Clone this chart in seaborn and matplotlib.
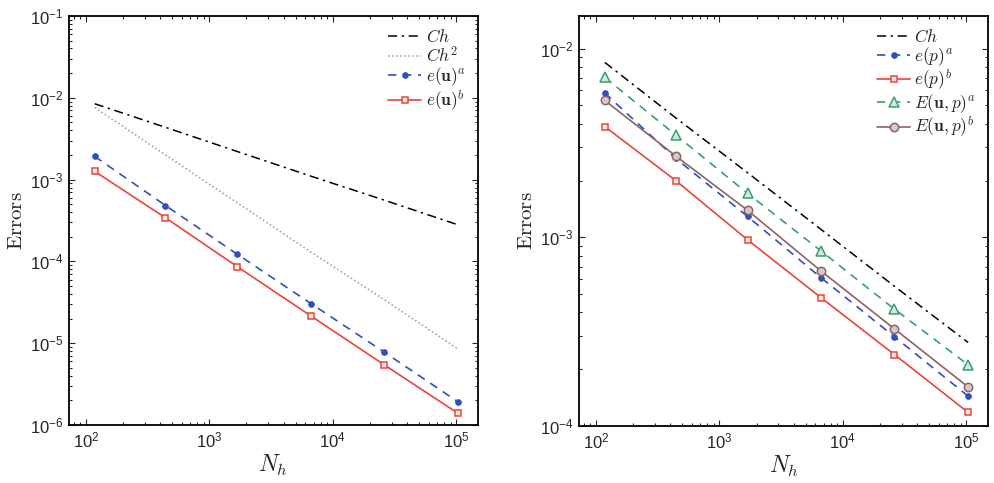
import numpy as np
import pandas as pd
import matplotlib
matplotlib.use("Agg")
import matplotlib.pyplot as plt
import seaborn as sns

# mesh sizes (number of dofs)
N_h = [118, 442, 1690, 6670, 26200, 103500]

# left panel: velocity errors + reference slopes
ref_Ch = [8.45e-3, 4.35e-3, 2.2e-3, 1.1e-3, 5.6e-4, 2.8e-4]
ref_Ch2 = [7.6e-3, 2.0e-3, 5.2e-4, 1.3e-4, 3.4e-5, 8.5e-6]
eu_a = [1.92e-3, 4.82e-4, 1.22e-4, 3.05e-5, 7.76e-6, 1.92e-6]
eu_b = [1.26e-3, 3.41e-4, 8.61e-5, 2.15e-5, 5.43e-6, 1.39e-6]

# right panel: pressure / energy errors
ref_Ch_r = [8.45e-3, 4.3e-3, 2.2e-3, 1.1e-3, 5.5e-4, 2.77e-4]
ep_a = [5.81e-3, 2.62e-3, 1.29e-3, 6.1e-4, 2.97e-4, 1.44e-4]
ep_b = [3.86e-3, 2.0e-3, 9.7e-4, 4.78e-4, 2.39e-4, 1.18e-4]
Eup_a = [7.03e-3, 3.49e-3, 1.71e-3, 8.46e-4, 4.16e-4, 2.11e-4]
Eup_b = [5.31e-3, 2.70e-3, 1.39e-3, 6.62e-4, 3.27e-4, 1.61e-4]

sns.set_style("ticks")
plt.rcParams["font.family"] = ["Liberation Sans", "DejaVu Sans"]
plt.rcParams["mathtext.fontset"] = "custom"
plt.rcParams["mathtext.rm"] = "Liberation Sans"
plt.rcParams["mathtext.it"] = "Liberation Sans:italic"
plt.rcParams["mathtext.bf"] = "Liberation Sans:bold"
plt.rcParams["axes.linewidth"] = 1.3
plt.rcParams["xtick.direction"] = "in"
plt.rcParams["ytick.direction"] = "in"

blue = "#2d4fc0"
red = "#e8453c"
green = "#3a9f6e"
brown = "#8a6464"

fig = plt.figure(figsize=(9.95, 4.83), dpi=100)
ax1 = fig.add_axes([0.0693, 0.120, 0.411, 0.847])
ax2 = fig.add_axes([0.582, 0.118, 0.411, 0.849])

def draw(ax, y, **kw):
    sns.lineplot(x=N_h, y=y, ax=ax, **kw)

# left
draw(ax1, ref_Ch, color="black", lw=1.1, label="$Ch$")
ax1.lines[-1].set_dashes([6, 3, 1.5, 3])
draw(ax1, ref_Ch2, color="#999999", lw=1.1, label="$Ch^2$")
ax1.lines[-1].set_linestyle(":")
draw(ax1, eu_a, color=blue, lw=1.2, marker="o", ms=4, mec=blue, mfc=blue,
     label=r"$e(\mathbf{u})^a$")
ax1.lines[-1].set_dashes([5, 4])
draw(ax1, eu_b, color=red, lw=1.2, marker="s", ms=5, mec=red, mfc="#fde8e6",
     mew=1.1, label=r"$e(\mathbf{u})^b$")

# right
draw(ax2, ref_Ch_r, color="black", lw=1.1, label="$Ch$")
ax2.lines[-1].set_dashes([6, 3, 1.5, 3])
draw(ax2, ep_a, color=blue, lw=1.2, marker="o", ms=4, mec=blue, mfc=blue,
     label="$e(p)^a$")
ax2.lines[-1].set_dashes([5, 4])
draw(ax2, ep_b, color=red, lw=1.2, marker="s", ms=5, mec=red, mfc="#fde8e6",
     mew=1.1, label="$e(p)^b$")
draw(ax2, Eup_a, color=green, lw=1.2, marker="^", ms=6.5, mec=green, mfc="#cfeadb",
     mew=1.1, label=r"$E(\mathbf{u},p)^a$")
ax2.lines[-1].set_dashes([5, 4])
draw(ax2, Eup_b, color=brown, lw=1.2, marker="o", ms=6, mec=brown, mfc="#d9c8c8",
     mew=1.1, label=r"$E(\mathbf{u},p)^b$")

for ax, ylim in ((ax1, (1e-6, 1e-1)), (ax2, (1e-4, 1.49e-2))):
    ax.set_xscale("log")
    ax.set_yscale("log")
    ax.set_xlim(73, 1.5e5)
    ax.set_ylim(*ylim)
    ax.tick_params(which="both", top=True, right=True, labelsize=12,
                   length=4, width=0.8, pad=4)
    ax.tick_params(which="minor", length=2.5)
    ax.set_xlabel("$N_h$", fontsize=17, math_fontfamily="cm", labelpad=2)
    ax.set_ylabel(r"$\mathrm{Errors}$", fontsize=15, math_fontfamily="cm",
                  labelpad=3)
    for s in ax.spines.values():
        s.set_color("black")
    ax.legend(loc="upper right", frameon=False, handlelength=1.9,
              handletextpad=0.25, labelspacing=0.0, borderaxespad=0.3,
              prop={"math_fontfamily": "cm", "size": 12.5})

ax1.set_yticks([1e-6, 1e-5, 1e-4, 1e-3, 1e-2, 1e-1])
ax2.set_yticks([1e-4, 1e-3, 1e-2])

fig.savefig("out.png", dpi=100)
